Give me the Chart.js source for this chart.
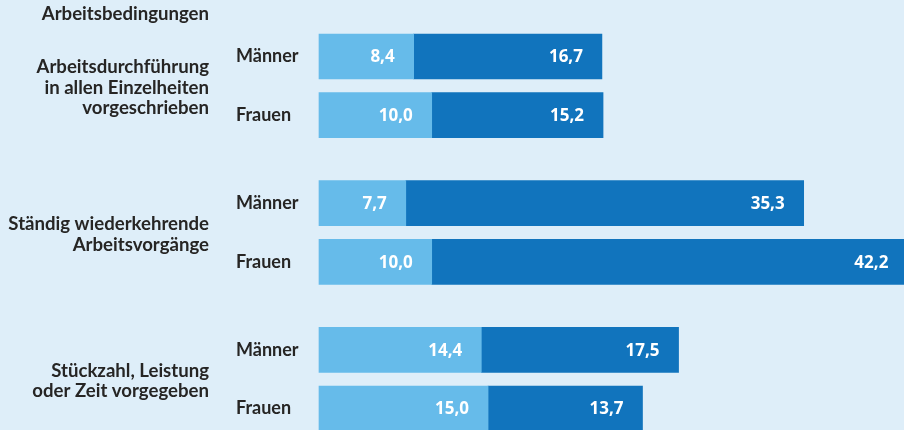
<!DOCTYPE html>
<html>
<head>
<meta charset="utf-8">
<script src="https://cdn.jsdelivr.net/npm/chart.js@4/dist/chart.umd.min.js"></script>
<style>
  html, body { margin: 0; padding: 0; background: #deeef9; }
  #wrap { width: 904px; height: 430px; position: relative; }
</style>
</head>
<body>
<div id="wrap"><canvas id="chart"></canvas></div>
<script>
const title = 'Arbeitsbedingungen';
const groups = [
  ['Arbeitsdurchführung', 'in allen Einzelheiten', 'vorgeschrieben'],
  ['Ständig wiederkehrende', 'Arbeitsvorgänge'],
  ['Stückzahl, Leistung', 'oder Zeit vorgegeben']
];
const sexes = ['Männer', 'Frauen'];
// light part and dark part of each bar, Männer then Frauen per group
const lightValues = [8.4, 10.0, 7.7, 10.0, 14.4, 15.0];
const darkValues = [16.7, 15.2, 35.3, 42.2, 17.5, 13.7];

const lightColor = '#66bbea';
const darkColor = '#1174bd';
const textColor = '#262524';
const fontFamily = 'Lato, "Open Sans", sans-serif';
const valueFont = '"Open Sans", "Noto Sans", sans-serif';

// build the category list with blank spacer slots between rows and groups
const labels = [];
const lightData = [];
const darkData = [];
const rowIndex = []; // slot of every real row
groups.forEach((g, gi) => {
  sexes.forEach((s, si) => {
    const k = gi * 2 + si;
    rowIndex.push(labels.length);
    labels.push(s);
    lightData.push(lightValues[k]);
    darkData.push(darkValues[k]);
    const spacers = si === 0 ? 1 : (gi < groups.length - 1 ? 2 : 0);
    for (let i = 0; i < spacers; i++) {
      labels.push('');
      lightData.push(null);
      darkData.push(null);
    }
  });
});

const fmt = v => v.toFixed(1).replace('.', ',');

const labelPlugin = {
  id: 'labelPlugin',
  afterDatasetsDraw(chart) {
    const ctx = chart.ctx;
    ctx.save();
    // values inside bars
    ctx.fillStyle = '#ffffff';
    ctx.font = 'bold 17px ' + valueFont;
    ctx.textAlign = 'right';
    ctx.textBaseline = 'middle';
    chart.data.datasets.forEach((ds, di) => {
      const meta = chart.getDatasetMeta(di);
      meta.data.forEach((el, i) => {
        const v = ds.data[i];
        if (v === null) return;
        ctx.fillText(fmt(v), el.x - 19, el.y + 1);
      });
    });
    // group labels on the left
    const yScale = chart.scales.y;
    ctx.fillStyle = textColor;
    ctx.font = 'bold 18.6px ' + fontFamily;
    const lineH = 20.5;
    groups.forEach((lines, gi) => {
      const y1 = yScale.getPixelForValue(rowIndex[gi * 2]);
      const y2 = yScale.getPixelForValue(rowIndex[gi * 2 + 1]);
      const mid = (y1 + y2) / 2 + 2;
      const start = mid - (lines.length - 1) * lineH / 2;
      lines.forEach((t, li) => ctx.fillText(t, 209, start + li * lineH));
    });
    ctx.fillText(title, 209, 14);
    ctx.restore();
  }
};

new Chart(document.getElementById('chart'), {
  type: 'bar',
  data: {
    labels: labels,
    datasets: [
      { data: lightData, backgroundColor: lightColor, barThickness: 45, clip: false },
      { data: darkData, backgroundColor: darkColor, barThickness: 45, clip: false }
    ]
  },
  options: {
    indexAxis: 'y',
    responsive: true,
    maintainAspectRatio: false,
    animation: false,
    layout: { padding: { left: 236, right: 0, top: 56.5, bottom: 21.5 } },
    plugins: { legend: { display: false }, tooltip: { enabled: false } },
    scales: {
      x: {
        stacked: true,
        display: false,
        min: 0,
        max: 51.9
      },
      y: {
        stacked: true,
        offset: false,
        border: { display: false },
        grid: { display: false },
        afterFit(scale) { scale.width = 83; },
        ticks: {
          crossAlign: 'far',
          autoSkip: false,
          color: textColor,
          font: { family: fontFamily, size: 18, weight: 'bold' }
        }
      }
    }
  },
  plugins: [labelPlugin]
});
</script>
</body>
</html>
